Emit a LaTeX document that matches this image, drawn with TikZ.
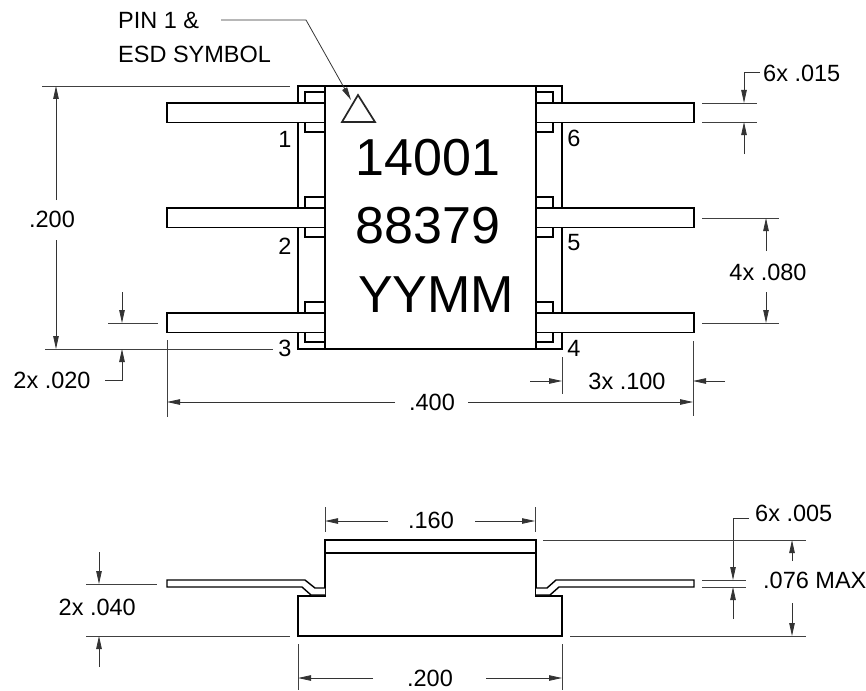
\documentclass[tikz,border=0pt]{standalone}
\usepackage{fontspec}
\setmainfont{Liberation Sans}
\usetikzlibrary{arrows.meta}
\tikzset{
  outline/.style={line width=1.7pt,line join=miter},
  thinline/.style={line width=.9pt,black!75},
  dimarrow/.style={line width=.8pt,black!80,-{Stealth[length=13pt,width=5.5pt,inset=0pt]}},
  dimtext/.style={inner sep=0pt,font=\fontsize{23.5}{26}\selectfont},
  marktext/.style={inner sep=0pt,font=\fontsize{52}{56}\selectfont,anchor=base}
}
\begin{document}
\begin{tikzpicture}[x=1pt,y=-1pt]
  \useasboundingbox (0,0) rectangle (866,690);
  % top view
  \draw[outline] (298,86) rectangle (562,349);
  \foreach \ytop in {103,208,313}{
    \draw[outline] (325,\ytop-11) -| (305,\ytop+29) -- (325,\ytop+29);
    \draw[outline] (536,\ytop-11) -| (553,\ytop+29) -- (536,\ytop+29);
    \draw[outline,fill=white] (167,\ytop) rectangle (325,\ytop+19.5);
    \draw[outline,fill=white] (536,\ytop) rectangle (694,\ytop+19.5);
  }
  \draw[outline,fill=white] (325,86) rectangle (536,349);
  \draw[outline,black!85,line join=miter] (342,122) -- (358,95) -- (375,122) -- cycle;
  \node[marktext] (line1) at (428,175) {14001};
  \node[marktext] (line2) at (428,243) {88379};
  \node[marktext] (line3) at (436,312) {YYMM};
  \node[dimtext] (pin1) at (285,139) {1};
  \node[dimtext] (pin2) at (285,246) {2};
  \node[dimtext] (pin3) at (285,348) {3};
  \node[dimtext] (pin4) at (574,348) {4};
  \node[dimtext] (pin5) at (574,243) {5};
  \node[dimtext] (pin6) at (574,138) {6};
  % pin 1 note
  \node[dimtext,anchor=west] (note1) at (118,20) {PIN 1 \&};
  \node[dimtext,anchor=west] (note2) at (118,54) {ESD SYMBOL};
  \coordinate (tri) at (351,100);
  \draw[dimarrow] (221,20) -- (306,20) -- (tri);
  % top view dimensions
  \draw[thinline] (42,86) -- (290,86);
  \draw[thinline] (45,349) -- (273,349);
  \node[dimtext] (h200) at (52,219) {.200};
  \draw[dimarrow] (56,200) -- (56,86);
  \draw[dimarrow] (56,240) -- (56,349);
  \draw[thinline] (108,323) -- (158,323);
  \draw[dimarrow] (122,292) -- (122,323);
  \node[dimtext] (w020) at (52,380) {2x .020};
  \draw[dimarrow] (105,380) -| (122,349);
  \draw[thinline] (167,340) -- (167,417);
  \draw[thinline] (693,341) -- (693,416);
  \node[dimtext] (w400) at (432,402) {.400};
  \draw[dimarrow] (395,402) -- (167,402);
  \draw[dimarrow] (468,402) -- (693,402);
  \draw[thinline] (562,357) -- (562,394);
  \node[dimtext] (w100) at (627,381) {3x .100};
  \draw[dimarrow] (530,381) -- (562,381);
  \draw[dimarrow] (725,381) -- (693,381);
  \foreach \yext in {103,122}
    \draw[thinline] (702,\yext) -- (757,\yext);
  \node[dimtext,anchor=west] (w015) at (763,73) {6x .015};
  \draw[dimarrow] (760,72) -| (744,103);
  \draw[dimarrow] (744,154) -- (744,122);
  \foreach \yext in {218,323}
    \draw[thinline] (702,\yext) -- (779,\yext);
  \node[dimtext] (p080) at (768,272) {4x .080};
  \draw[dimarrow] (766,251) -- (766,218);
  \draw[dimarrow] (766,292) -- (766,323);
  % side view
  \draw[outline] (298,636) -- (298,596) -- (325,596) -- (325,540) -- (536,540) -- (536,596) -- (562,596) -- (562,636) -- cycle;
  \draw[outline] (325,553) -- (536,553);
  \draw[outline,line width=1.4pt,fill=white] (325,588) -- (315,588) -- (305,580) -- (167,580) -- (167,587) -- (302,587) -- (311,595) -- (325,595);
  \draw[outline,line width=1.4pt,fill=white] (536,588) -- (547,588) -- (556,580) -- (694,580) -- (694,587) -- (559,587) -- (550,595) -- (536,595);
  % side view dimensions
  \draw[thinline] (325,507) -- (325,532);
  \draw[thinline] (535,507) -- (535,532);
  \node[dimtext] (w160) at (431,520) {.160};
  \draw[dimarrow] (388,521) -- (325,521);
  \draw[dimarrow] (475,521) -- (535,521);
  \draw[thinline] (298,644) -- (298,690);
  \draw[thinline] (562,644) -- (562,690);
  \node[dimtext] (w200) at (430,678) {.200};
  \draw[dimarrow] (373,678) -- (298,678);
  \draw[dimarrow] (486,678) -- (562,678);
  \draw[thinline] (86,584) -- (157,584);
  \draw[thinline] (86,636) -- (290,636);
  \node[dimtext,anchor=east] (h040) at (136,607) {2x .040};
  \draw[dimarrow] (99,552) -- (99,584);
  \draw[dimarrow] (99,667) -- (99,636);
  \node[dimtext,anchor=west] (t005) at (755,513) {6x .005};
  \foreach \yext in {580,587}
    \draw[thinline] (702,\yext) -- (746,\yext);
  \draw[dimarrow] (749,518) -| (733,580);
  \draw[dimarrow] (733,619) -- (733,587);
  \draw[thinline] (543,540) -- (806,540);
  \draw[thinline] (570,636) -- (806,636);
  \node[dimtext,anchor=west] (h076) at (763,580) {.076 MAX};
  \draw[dimarrow] (792,561) -- (792,540);
  \draw[dimarrow] (792,603) -- (792,636);
\end{tikzpicture}
\end{document}
